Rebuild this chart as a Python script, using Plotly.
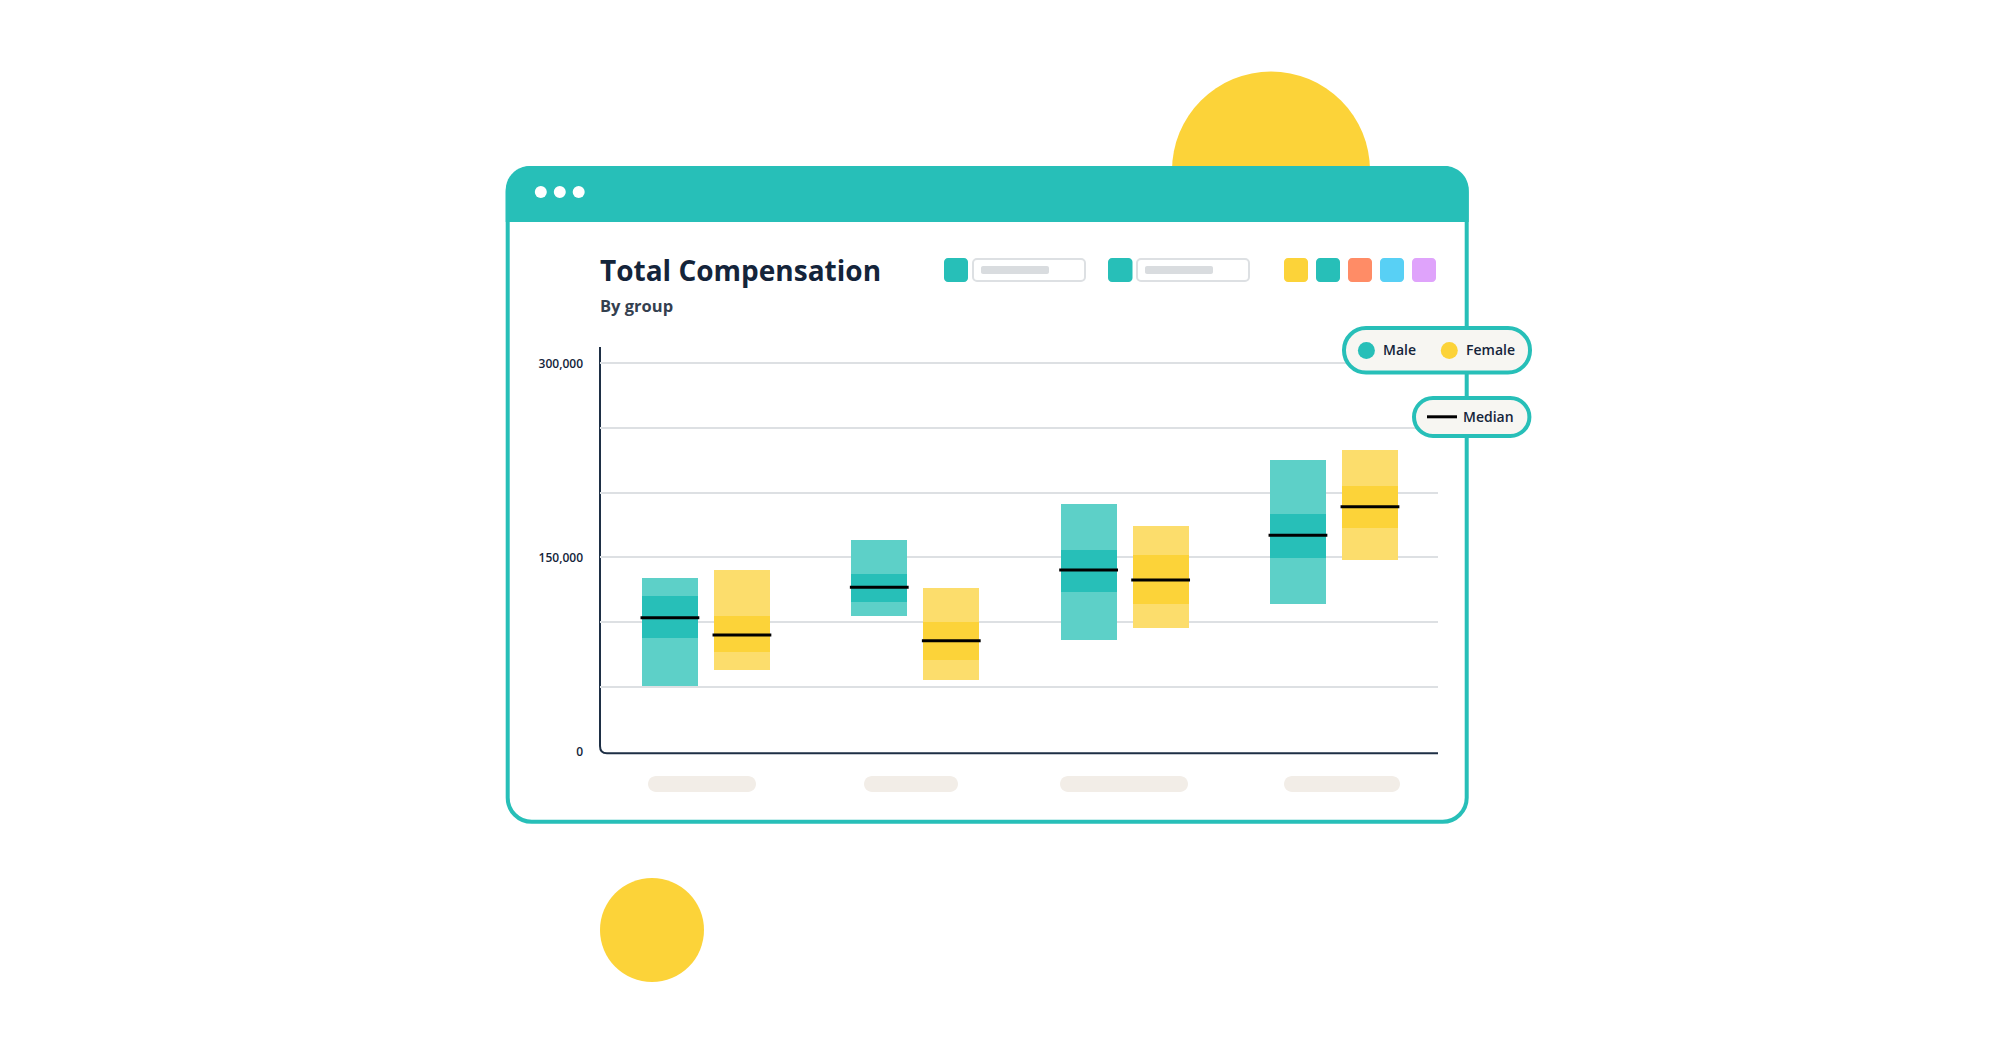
import plotly.graph_objects as go

W, H = 2000, 1045

groups = [0, 1, 2, 3]

male_low = [50500, 104600, 86400, 114000]
male_q1 = [87600, 115400, 123200, 149400]
male_median = [103300, 126800, 140200, 167100]
male_q3 = [120100, 137100, 155600, 183300]
male_high = [134000, 163400, 191200, 225200]

female_low = [62900, 55100, 95300, 147800]
female_q1 = [76800, 70600, 114000, 172700]
female_median = [89900, 85500, 132400, 189000]
female_q3 = [104600, 100000, 151700, 205100]
female_high = [140200, 126300, 174200, 233000]

y_ticks = [0, 150000, 300000]
y_ticktext = ["0", "150,000", "300,000"]
y_grid = [50000, 100000, 150000, 200000, 250000, 300000]

teal = "#27BFB8"
teal_light = "#5DD0C8"
yellow = "#FCD339"
yellow_light = "#FCDD6C"
navy = "#14243A"
grid_grey = "#DDE0E3"
pill_fill = "#F7F6F2"
label_pill = "#F2EDE7"
swatches = [yellow, teal, "#FF8C66", "#58D0F5", "#DFA3FB"]

FONT = "Open Sans"
BAR_W = 0.2675
BAR_SHIFT = 0.172


def fx(x):
    return x / W


def fy(y):
    return 1 - y / H


def rounded(x0, y0, x1, y1, r, top_only=False):
    # rounded rectangle as a path in paper coordinates
    k = r * 0.45
    rb = 0 if top_only else r
    kb = 0 if top_only else k
    pts = [
        "M", (x0 + r, y0), "L", (x1 - r, y0),
        "C", (x1 - k, y0), (x1, y0 + k), (x1, y0 + r),
        "L", (x1, y1 - rb),
        "C", (x1, y1 - kb), (x1 - kb, y1), (x1 - rb, y1),
        "L", (x0 + rb, y1),
        "C", (x0 + kb, y1), (x0, y1 - kb), (x0, y1 - rb),
        "L", (x0, y0 + r),
        "C", (x0, y0 + k), (x0 + k, y0), (x0 + r, y0),
    ]
    out = []
    for p in pts:
        out.append(p if isinstance(p, str) else f"{fx(p[0]):.5f},{fy(p[1]):.5f}")
    return " ".join(out) + " Z"


def box(x0, y0, x1, y1, r, fill, line=None, lw=0, layer="below", top_only=False):
    return dict(type="path", path=rounded(x0, y0, x1, y1, r, top_only), xref="paper", yref="paper",
                fillcolor=fill, line=dict(color=line or fill, width=lw), layer=layer)


def disc(cx, cy, r, fill, layer="below"):
    return dict(type="circle", xref="paper", yref="paper", x0=fx(cx - r), x1=fx(cx + r),
                y0=fy(cy + r), y1=fy(cy - r), fillcolor=fill, line=dict(width=0), layer=layer)


fig = go.Figure()

series = [
    ("Male", -BAR_SHIFT, male_low, male_q1, male_q3, male_high, teal, teal_light, male_median),
    ("Female", BAR_SHIFT, female_low, female_q1, female_q3, female_high, yellow, yellow_light, female_median),
]
for name, shift, low, q1, q3, high, dark, light, median in series:
    xs = [g + shift for g in groups]
    fig.add_trace(go.Bar(x=xs, base=low, y=[b - a for a, b in zip(low, q1)], width=BAR_W,
                         marker=dict(color=light, opacity=1, line=dict(width=0)), name=name, showlegend=False))
    fig.add_trace(go.Bar(x=xs, base=q1, y=[b - a for a, b in zip(q1, q3)], width=BAR_W,
                         marker=dict(color=dark, opacity=1, line=dict(width=0)), name=name, showlegend=False))
    fig.add_trace(go.Bar(x=xs, base=q3, y=[b - a for a, b in zip(q3, high)], width=BAR_W,
                         marker=dict(color=light, opacity=1, line=dict(width=0)), name=name, showlegend=False))
    fig.add_trace(go.Scatter(x=xs, y=median, mode="markers", name=name + " median", showlegend=False,
                             marker=dict(symbol="line-ew", size=42, color="#000000",
                                         line=dict(color="#000000", width=3))))

shapes = [
    disc(1271, 170.5, 99, yellow),
    disc(652, 930, 52, yellow),
    # window
    box(507.7, 168, 1466.7, 821.8, 24, "#FFFFFF", teal, 4),
    box(505.7, 166, 1468.7, 222, 24, teal, top_only=True),
    disc(540.8, 192, 6, "#FFFFFF"),
    disc(559.8, 192, 6, "#FFFFFF"),
    disc(578.7, 192, 6, "#FFFFFF"),
    # filter row
    box(944, 258, 968, 282, 4, teal),
    box(973, 259, 1085, 281, 4, "#FFFFFF", grid_grey, 2),
    box(981, 266, 1049, 274, 2, "#D9DCDF"),
    box(1108, 258, 1132.5, 282, 4, teal),
    box(1137, 259, 1249, 281, 4, "#FFFFFF", grid_grey, 2),
    box(1145, 266, 1213, 274, 2, "#D9DCDF"),
]
for sx, colour in zip([1284, 1316, 1348, 1380, 1412], swatches):
    shapes.append(box(sx, 258, sx + 24, 282, 4, colour))

# axis lines with the rounded corner
shapes.append(dict(type="path", xref="paper", yref="paper", layer="below",
                   path=f"M {fx(600):.5f},{fy(347):.5f} L {fx(600):.5f},{fy(746):.5f} "
                        f"Q {fx(600):.5f},{fy(753.3):.5f} {fx(607):.5f},{fy(753.3):.5f} "
                        f"L {fx(1438):.5f},{fy(753.3):.5f}",
                   line=dict(color="#1E2F45", width=2)))

# placeholder x labels
for x0, x1 in [(648, 756), (864, 958), (1060, 1188), (1284, 1400)]:
    shapes.append(box(x0, 776, x1, 792, 8, label_pill))

# legend pills
shapes += [
    box(1344, 328, 1530, 372.6, 22, pill_fill, teal, 4, layer="above"),
    disc(1366.4, 350.6, 8.5, teal, layer="above"),
    disc(1449.3, 350.6, 8.5, yellow, layer="above"),
    box(1414, 398, 1529.4, 436, 19, pill_fill, teal, 4, layer="above"),
    dict(type="line", xref="paper", yref="paper", x0=fx(1427), x1=fx(1457), y0=fy(416.8), y1=fy(416.8),
         line=dict(color="#000000", width=3), layer="above"),
]


def label(text, x, y, size, color, weight=600, anchor="left"):
    return dict(text=text, x=fx(x), y=fy(y), xref="paper", yref="paper", showarrow=False,
                xanchor=anchor, yanchor="middle",
                font=dict(family=FONT, size=size, color=color, weight=weight))


annotations = [
    label("Total Compensation", 598, 270, 28, navy, 700),
    label("By group", 598, 305, 16.5, "#34404F", 700),
    label("Male", 1381, 350, 14, navy, 600),
    label("Female", 1464, 350, 14, navy, 600),
    label("Median", 1461, 416.5, 14, navy, 600),
]

fig.update_layout(
    width=W,
    height=H,
    autosize=False,
    margin=dict(l=0, r=0, t=0, b=0),
    paper_bgcolor="#FFFFFF",
    plot_bgcolor="rgba(0,0,0,0)",
    barmode="overlay",
    bargap=0,
    showlegend=False,
    shapes=shapes,
    annotations=annotations,
    xaxis=dict(domain=[fx(600), fx(1438)], range=[-0.506, 3.497], showgrid=False, zeroline=False,
               showticklabels=False, ticks="", showline=False, automargin=False),
    yaxis=dict(domain=[fy(753.3), fy(347)], range=[-1546, 312600], tickvals=y_ticks, ticktext=y_ticktext,
               showgrid=False, zeroline=False, showline=False, ticks="", ticklabelstandoff=16,
               automargin=False,
               tickfont=dict(family=FONT, size=12, color=navy, weight=600),
               minor=dict(tickvals=y_grid, showgrid=True, gridcolor=grid_grey, gridwidth=2, ticks="")),
)

fig.write_html("out.html", config=dict(displayModeBar=False),
               post_script="document.body.style.margin='0';")
